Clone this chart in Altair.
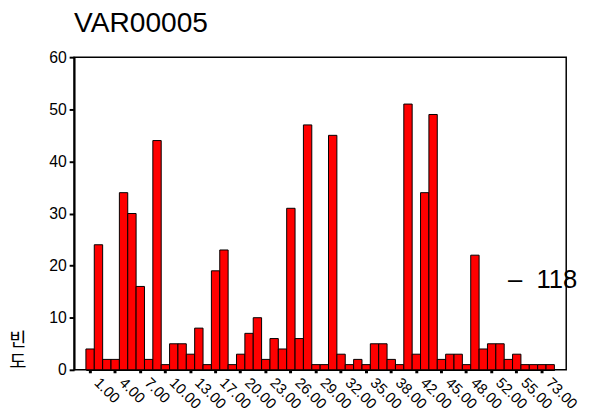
import altair as alt
import pandas as pd

categories = ["1.00", "2.00", "3.00", "4.00", "5.00", "6.00", "7.00", "8.00", "9.00", "10.00",
              "11.00", "12.00", "13.00", "14.00", "15.00", "17.00", "18.00", "19.00", "20.00", "21.00",
              "22.00", "23.00", "24.00", "25.00", "26.00", "27.00", "28.00", "29.00", "30.00", "31.00",
              "32.00", "33.00", "34.00", "35.00", "36.00", "37.00", "38.00", "39.00", "40.00", "42.00",
              "43.00", "44.00", "45.00", "46.00", "47.00", "48.00", "49.00", "50.00", "52.00", "53.00",
              "54.00", "55.00", "56.00", "60.00", "73.00", "80.00"]
counts = [4, 24, 2, 2, 34, 30, 16, 2, 44, 1,
          5, 5, 3, 8, 1, 19, 23, 1, 3, 7,
          10, 2, 6, 4, 31, 6, 47, 1, 1, 45,
          3, 1, 2, 1, 5, 5, 2, 1, 51, 3,
          34, 49, 2, 3, 3, 1, 22, 4, 5, 5,
          2, 3, 1, 1, 1, 1]
tick_labels = ["1.00", "4.00", "7.00", "10.00", "13.00", "17.00", "20.00", "23.00", "26.00",
               "29.00", "32.00", "35.00", "38.00", "42.00", "45.00", "48.00", "52.00", "55.00", "73.00"]
y_ticks = [0, 10, 20, 30, 40, 50, 60]
y_title = ["빈\n도"]
annotation = ["\u2013\u00a0\u00a0118"]

df = pd.DataFrame({"VAR00005": categories, "count": counts})

bars = alt.Chart(df).mark_bar(color="#ff0000", stroke="#000000", strokeWidth=1).encode(
    x=alt.X("VAR00005:O", sort=categories,
            scale=alt.Scale(paddingInner=0, paddingOuter=0, range=[12, 487]),
            axis=alt.Axis(values=tick_labels, title=None, labelAngle=45, labelAlign="left",
                          labelBaseline="middle", labelPadding=7, labelOffset=7, tickSize=3, tickWidth=3,
                          tickColor="black", domainColor="black", domainWidth=1.5,
                          labelFont="Liberation Sans", labelFontSize=15, labelColor="black")),
    y=alt.Y("count:Q", scale=alt.Scale(domain=[0, 60], nice=False),
            axis=alt.Axis(values=y_ticks, grid=False, title=None,
                          tickSize=5, tickWidth=2, tickColor="black", domainColor="black",
                          domainWidth=2, labelPadding=3, labelFont="Liberation Sans",
                          labelFontSize=16, labelColor="black"))
)

ytitle = alt.Chart(pd.DataFrame({"t": y_title})).mark_text(
    align="center", baseline="top", font="Noto Sans CJK KR", fontSize=19, lineHeight=22,
    lineBreak="\n", color="black"
).encode(text="t:N", x=alt.value(-57), y=alt.value(278))

note = alt.Chart(pd.DataFrame({"t": annotation})).mark_text(
    align="left", baseline="middle", font="Liberation Sans", fontSize=26, color="black"
).encode(text="t:N", x=alt.value(440), y=alt.value(226))

chart = alt.layer(bars, ytitle, note).properties(
    width=499, height=317,
    title=alt.TitleParams("VAR00005", anchor="start", frame="group", font="Liberation Sans",
                          fontSize=28.5, fontWeight="normal", color="black", offset=12),
    autosize=alt.AutoSizeParams(type="none"),
    padding={"left": 67, "top": 47, "right": 16, "bottom": 47},
    background="white",
).configure_view(stroke="black", strokeWidth=1.5)

chart.save("out.html", embed_options={"renderer": "svg", "actions": False})
